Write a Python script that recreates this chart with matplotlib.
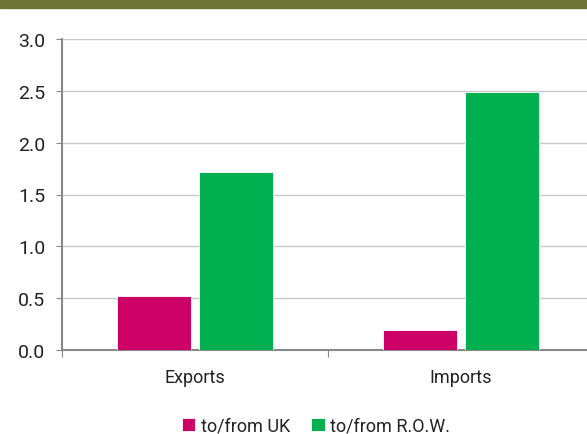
import numpy as np
import matplotlib.pyplot as plt
from matplotlib.patches import Rectangle

plt.rcParams['font.family'] = ['Roboto', 'DejaVu Sans']

# 데이터
categories = ['Exports', 'Imports']
series_names = ['to/from UK', 'to/from R.O.W.']
uk_values = [0.52, 0.19]
row_values = [1.72, 2.49]
y_ticks = [0.0, 0.5, 1.0, 1.5, 2.0, 2.5, 3.0]

fig = plt.figure(figsize=(5.87, 4.35), dpi=100)

# 상단 띠
fig.patches.append(Rectangle((0, 1 - 9 / 435), 1, 9 / 435, transform=fig.transFigure,
                             color='#6E7436', zorder=0))

ax = fig.add_axes([62 / 587, 84 / 435, 532 / 587, 311 / 435])

x = np.arange(len(categories))
w = 0.275
off = 0.154
ax.bar(x - off, uk_values, w, color='#CC0066', edgecolor='white', linewidth=0.6,
       label=series_names[0], zorder=3)
ax.bar(x + off, row_values, w, color='#00B050', edgecolor='white', linewidth=0.6,
       label=series_names[1], zorder=3)

ax.set_xlim(-0.5, len(categories) - 0.5)
ax.set_ylim(0, 3.0)
ax.set_yticks(y_ticks)
ax.set_yticklabels([f'{v:.1f}' for v in y_ticks])
ax.yaxis.grid(True, color='#C8C8C8', linewidth=1)
ax.set_axisbelow(True)

# x축: 카테고리 경계에 눈금
ax.set_xticks(np.arange(len(categories) + 1) - 0.5)
ax.set_xticklabels([])
ax.set_xticks(x, minor=True)
ax.set_xticklabels(categories, minor=True)
ax.tick_params(axis='x', which='major', length=5, color='#888888', direction='out')
ax.tick_params(axis='x', which='minor', length=0, pad=13, labelsize=13, labelcolor='#222222')
ax.tick_params(axis='y', length=4, color='#888888', labelsize=14, labelcolor='#222222', pad=8)

for s in ['top', 'right']:
    ax.spines[s].set_visible(False)
for s in ['left', 'bottom']:
    ax.spines[s].set_color('#888888')
    ax.spines[s].set_linewidth(1.5)

fig.legend(loc='center', bbox_to_anchor=(316 / 587, 1 - 427 / 435), ncol=2, frameon=False,
           fontsize=13, handlelength=0.75, handleheight=0.75, handletextpad=0.3,
           columnspacing=1.2, labelcolor='#222222')

plt.savefig('out.png', dpi=100)
